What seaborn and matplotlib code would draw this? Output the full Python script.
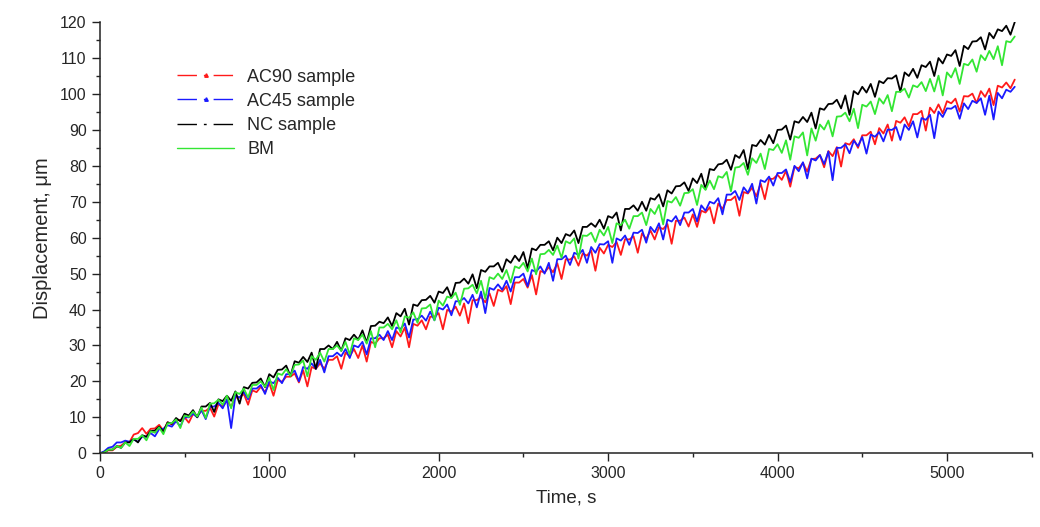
import numpy as np
import pandas as pd
import matplotlib
matplotlib.use("Agg")
import matplotlib.pyplot as plt
from matplotlib.lines import Line2D
from matplotlib.ticker import MultipleLocator
import seaborn as sns

# upper trace read every 50 s, spike minima read between them (at +25 s)
time_top = np.arange(0, 5401, 50)
time_dip = np.arange(25, 5400, 50)

nc_top = [
    0, 1, 2, 3, 4, 5, 6.2, 7.4, 8.6, 9.8,
    11, 12, 13, 14, 15, 16, 17.2, 18.4, 19.6, 20.8,
    22, 23.2, 24.4, 25.6, 26.8, 28, 29, 30, 31, 32,
    33, 34.2, 35.4, 36.6, 37.8, 39, 40.2, 41.4, 42.6, 43.8,
    45, 46.2, 47.4, 48.6, 49.8, 51, 52, 53, 54, 55,
    56, 57, 58, 59, 60, 61, 62, 63, 64, 65,
    66, 67, 68, 69, 70, 71, 72.1, 73.2, 74.3, 75.4,
    76.5, 77.8, 79.1, 80.4, 81.7, 83, 84.4, 85.8, 87.2, 88.6,
    90, 91.2, 92.4, 93.6, 94.8, 96, 97.2, 98.4, 99.6, 100.8,
    102, 102.8, 103.6, 104.4, 105.2, 106, 107, 108, 109, 110,
    111, 112.2, 113.4, 114.6, 115.8, 117, 118, 119, 120,
]
nc_dip = [
    0.2, 1.0, 1.5, 3.0, 3.0, 4.6, 6.3, 6.0, 8.2, 8.9,
    10.5, 10.0, 13.0, 11.5, 14.5, 14.6, 13.8, 18.0, 19.7, 18.4,
    21.1, 23.3, 21.5, 25.2, 25.4, 23.5, 29.0, 29.0, 28.5, 31.5,
    31.6, 30.8, 35.5, 36.2, 35.4, 38.1, 35.8, 41.0, 42.7, 41.9,
    44.6, 43.3, 47.5, 47.2, 45.9, 50.5, 52.0, 50.5, 53.0, 53.5,
    51.5, 56.5, 58.0, 56.5, 58.5, 60.5, 58.5, 63.0, 63.0, 62.5,
    65.5, 62.0, 68.0, 67.5, 67.5, 70.6, 68.7, 72.3, 74.4, 73.0,
    75.2, 73.5, 78.8, 80.6, 78.9, 82.2, 79.1, 85.5, 85.9, 86.3,
    90.1, 87.3, 92.0, 92.2, 90.4, 95.6, 97.3, 96.0, 94.2, 99.9,
    100.4, 99.2, 103.0, 104.3, 100.6, 105.0, 104.5, 107.5, 105.0, 108.5,
    110.6, 107.8, 112.5, 114.7, 112.4, 115.5, 117.5, 116.5,
]

bm_top = [
    0, 1, 2, 3, 4, 5, 6.1, 7.2, 8.3, 9.4,
    10.5, 11.6, 12.7, 13.8, 14.9, 16, 17, 18, 19, 20,
    21, 22.2, 23.4, 24.6, 25.8, 27, 28, 29, 30, 31,
    32, 33, 34, 35, 36, 37, 38.1, 39.2, 40.3, 41.4,
    42.5, 43.6, 44.7, 45.8, 46.9, 48, 49, 50, 51, 52,
    53, 54.2, 55.4, 56.6, 57.8, 59, 59.8, 60.6, 61.4, 62.2,
    63, 64, 65, 66, 67, 68, 69.1, 70.2, 71.3, 72.4,
    73.5, 74.7, 75.9, 77.1, 78.3, 79.5, 80.8, 82.1, 83.4, 84.7,
    86, 87.1, 88.2, 89.3, 90.4, 91.5, 92.6, 93.7, 94.8, 95.9,
    97, 97.9, 98.8, 99.7, 100.6, 101.5, 102.4, 103.3, 104.2, 105.1,
    106, 107.2, 108.4, 109.6, 110.8, 112, 113.3, 114.7, 116,
]
bm_dip = [
    0.2, 1.0, 1.5, 2.0, 4.0, 3.6, 5.7, 5.3, 8.4, 7.0,
    10.1, 10.2, 9.8, 13.9, 13.5, 12.5, 16.5, 15.5, 19.0, 18.5,
    17.6, 21.8, 21.5, 24.7, 21.4, 26.0, 25.5, 29.0, 28.5, 27.5,
    31.5, 30.5, 29.5, 35.0, 34.5, 33.6, 37.7, 36.3, 40.4, 37.0,
    41.1, 43.2, 41.3, 45.9, 44.5, 43.0, 48.5, 48.5, 47.5, 51.5,
    50.6, 49.8, 55.5, 55.2, 54.4, 58.4, 54.2, 60.5, 58.8, 60.6,
    58.5, 63.5, 62.5, 66.0, 63.5, 66.6, 63.7, 69.8, 68.9, 72.5,
    69.1, 73.3, 73.5, 76.7, 72.9, 79.7, 77.5, 80.8, 79.1, 84.4,
    83.6, 81.7, 87.8, 82.9, 87.0, 90.1, 88.2, 93.8, 92.4, 90.5,
    96.5, 94.4, 97.3, 95.2, 100.6, 99.0, 101.9, 100.8, 100.7, 99.6,
    104.6, 102.8, 108.0, 106.2, 109.4, 109.7, 108.0, 114.4,
]

ac45_top = [
    0, 1.5, 3.0, 3.5, 3.8, 4.6, 5.6, 6.7, 7.8, 8.9,
    10, 11, 12, 13, 14, 15, 16, 17, 18, 19,
    20, 21, 22, 23, 24, 25, 26, 27, 28, 29,
    30, 31, 32, 33, 34, 35, 36.1, 37.2, 38.3, 39.4,
    40.5, 41.4, 42.3, 43.2, 44.1, 45, 46, 47, 48, 49,
    50, 51, 52, 53, 54, 55, 55.8, 56.6, 57.4, 58.2,
    59, 59.8, 60.6, 61.4, 62.2, 63, 64, 65, 66, 67,
    68, 69, 70, 71, 72, 73, 74, 75, 76, 77,
    78, 79, 80, 81, 82, 83, 84, 85, 86, 87,
    88, 88.7, 89.4, 90.1, 90.8, 91.5, 92.4, 93.3, 94.2, 95.1,
    96, 96.7, 97.4, 98.1, 98.8, 99.5, 100.3, 101.2, 102,
]
ac45_dip = [
    0.5, 1.8, 3.0, 3.2, 3.2, 4.6, 4.7, 6.8, 7.4, 7.5,
    10.0, 10.0, 9.5, 13.0, 12.5, 7.0, 15.5, 15.0, 18.0, 16.5,
    19.5, 19.5, 22.0, 20.0, 23.5, 23.5, 22.5, 27.0, 27.0, 26.5,
    29.5, 27.5, 32.0, 31.5, 31.5, 34.6, 32.2, 37.3, 36.9, 37.0,
    40.0, 38.4, 42.3, 41.7, 40.6, 39.0, 45.5, 45.5, 45.0, 49.0,
    46.5, 50.5, 50.0, 48.0, 54.0, 52.4, 55.2, 53.0, 55.8, 58.1,
    53.0, 59.2, 58.0, 61.3, 58.6, 61.5, 59.5, 64.5, 63.5, 67.0,
    64.5, 67.5, 69.5, 66.5, 72.0, 70.5, 72.5, 69.5, 75.5, 74.5,
    78.0, 75.5, 78.5, 76.5, 81.5, 80.5, 76.0, 85.0, 83.5, 85.5,
    83.4, 88.1, 86.8, 90.0, 87.2, 90.0, 87.9, 92.8, 87.7, 93.6,
    95.9, 93.1, 95.8, 97.5, 94.2, 92.9, 98.8, 100.6,
]

ac90_top = [
    0, 0.8, 1.8, 3.0, 5.2, 7.0, 6.8, 7.9, 8.6, 9.3,
    10, 10.9, 11.8, 12.7, 13.6, 14.5, 15.5, 16.5, 17.5, 18.5,
    19.5, 20.4, 21.3, 22.2, 23.1, 24, 25, 26, 27, 28,
    29, 30, 31, 32, 33, 34, 35, 36, 37, 38,
    39, 39.9, 40.8, 41.7, 42.6, 43.5, 44.5, 45.5, 46.5, 47.5,
    48.5, 49.6, 50.7, 51.8, 52.9, 54, 54.8, 55.6, 56.4, 57.2,
    58, 58.8, 59.6, 60.4, 61.2, 62, 62.9, 63.8, 64.7, 65.6,
    66.5, 67.5, 68.5, 69.5, 70.5, 71.5, 72.7, 73.9, 75.1, 76.3,
    77.5, 78.6, 79.7, 80.8, 81.9, 83, 84.1, 85.2, 86.3, 87.4,
    88.5, 89.5, 90.5, 91.5, 92.5, 93.5, 94.4, 95.3, 96.2, 97.1,
    98, 98.7, 99.4, 100.1, 100.8, 101.5, 102.3, 103.2, 104,
]
ac90_dip = [
    0.2, 0.8, 2.1, 3.1, 5.6, 5.4, 6.9, 6.3, 8.0, 9.2,
    8.5, 10.4, 11.8, 10.2, 13.1, 13.0, 15.5, 13.5, 17.0, 17.0,
    16.0, 19.9, 21.3, 19.7, 18.6, 23.5, 23.5, 26.0, 23.5, 27.0,
    26.5, 25.5, 30.5, 32.0, 29.5, 32.5, 29.5, 35.5, 34.5, 38.0,
    34.5, 39.4, 38.3, 36.2, 42.6, 42.0, 41.0, 45.0, 41.5, 47.5,
    46.1, 44.2, 50.3, 50.4, 48.5, 53.9, 52.2, 55.0, 50.8, 55.6,
    57.4, 55.2, 59.5, 55.8, 59.6, 59.5, 62.4, 58.3, 64.7, 63.1,
    63.0, 67.0, 64.0, 68.0, 70.5, 66.1, 72.3, 71.5, 70.7, 76.4,
    76.1, 74.2, 79.3, 78.4, 82.0, 79.6, 82.7, 79.8, 85.9, 85.0,
    88.5, 86.0, 89.0, 87.0, 92.0, 91.0, 94.4, 89.8, 94.7, 94.6,
    97.4, 95.1, 99.3, 97.5, 99.2, 96.9, 101.8, 101.6,
]

series_names = ["AC90 sample", "AC45 sample", "NC sample", "BM"]
series_top = [ac90_top, ac45_top, nc_top, bm_top]
series_dip = [ac90_dip, ac45_dip, nc_dip, bm_dip]
colors = ["#ff1a1a", "#1a1aff", "#000000", "#33e633"]

x_ticks = [0, 1000, 2000, 3000, 4000, 5000]
y_ticks = [0, 10, 20, 30, 40, 50, 60, 70, 80, 90, 100, 110, 120]

sns.set_style("ticks")
plt.rcParams["font.family"] = ["Liberation Sans", "DejaVu Sans"]

fig = plt.figure(figsize=(10.4, 5.27), dpi=100)
ax = fig.add_axes([0.096, 0.140, 0.896, 0.818])

for name, top, dip, c in zip(series_names, series_top, series_dip, colors):
    df = pd.concat([
        pd.DataFrame({"Time": time_top, "Displacement": top}),
        pd.DataFrame({"Time": time_dip, "Displacement": dip}),
    ]).sort_values("Time")
    sns.lineplot(data=df, x="Time", y="Displacement", ax=ax, color=c,
                 linewidth=1.3, legend=False, estimator=None, sort=True)

ax.set_xlim(0, 5500)
ax.set_ylim(0, 120)
ax.set_xticks(x_ticks)
ax.set_yticks(y_ticks)
ax.xaxis.set_minor_locator(MultipleLocator(500))
ax.yaxis.set_minor_locator(MultipleLocator(5))
ax.tick_params(axis="both", which="major", direction="out", length=6, width=1,
               labelsize=11.5, color="#222222")
ax.tick_params(axis="both", which="minor", direction="out", length=3, width=1,
               color="#222222")
for s in ["left", "bottom"]:
    ax.spines[s].set_linewidth(1.1)
    ax.spines[s].set_color("#222222")
sns.despine(ax=ax)

ax.set_xlabel("Time, s", fontsize=13.5, labelpad=6)
ax.set_ylabel("Displacement, μm", fontsize=14.5, labelpad=6)

dashdot = (0, (14, 5, 2, 5))
handles = [
    Line2D([0], [0], color=colors[0], lw=1.0, linestyle=dashdot,
           marker="^", markersize=2.5),
    Line2D([0], [0], color=colors[1], lw=1.0, linestyle=dashdot,
           marker="^", markersize=2.5),
    Line2D([0], [0], color=colors[2], lw=1.0, linestyle=dashdot),
    Line2D([0], [0], color=colors[3], lw=1.0, linestyle="-"),
]
ax.legend(handles, series_names, loc="upper left", bbox_to_anchor=(0.065, 0.93),
          frameon=False, fontsize=13, handlelength=3.2, handletextpad=0.7,
          labelspacing=0.4, numpoints=1)

fig.savefig("out.png", dpi=100)
